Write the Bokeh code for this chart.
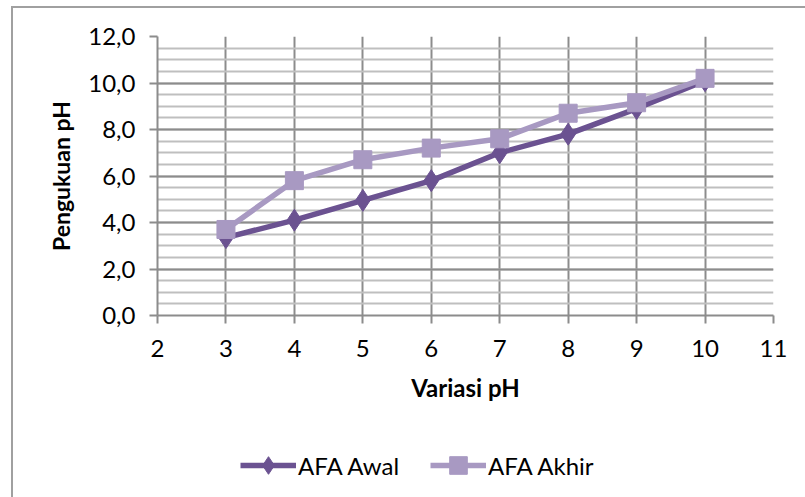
from bokeh.plotting import figure
from bokeh.layouts import column
from bokeh.models import Range1d, FixedTicker, Legend, LegendItem
from bokeh.embed import file_html
from bokeh.resources import INLINE

# ---- data ----
variasi_ph = [3, 4, 5, 6, 7, 8, 9, 10]
afa_awal = [3.35, 4.1, 4.95, 5.8, 7.0, 7.8, 8.9, 10.1]
afa_akhir = [3.7, 5.8, 6.7, 7.2, 7.6, 8.7, 9.15, 10.2]
x_ticks = [2, 3, 4, 5, 6, 7, 8, 9, 10, 11]
y_ticks = [0, 2, 4, 6, 8, 10, 12]
y_tick_labels = ["0,0", "2,0", "4,0", "6,0", "8,0", "10,0", "12,0"]
y_minor_ticks = [i * 0.5 for i in range(25)]
series_names = ["AFA Awal", "AFA Akhir"]

FONT = "Lato"
DARK = "#6b5291"
LIGHT = "#a899c2"
GRID = "#8c8c8c"

# main chart (canvas starts at page (13, 8) because of the chart-area border)
p = figure(width=792, height=429, output_backend="svg", toolbar_location=None,
           x_range=Range1d(2, 11), y_range=Range1d(0, 12),
           min_border_left=144, min_border_right=32, min_border_top=28, min_border_bottom=122)
p.outline_line_color = None
p.background_fill_color = "white"
p.border_fill_color = "white"

p.xaxis.ticker = FixedTicker(ticks=x_ticks)
p.yaxis.ticker = FixedTicker(ticks=y_ticks, minor_ticks=y_minor_ticks)
p.yaxis.major_label_overrides = {t: l for t, l in zip(y_ticks, y_tick_labels)}
for ax in (p.xaxis[0], p.yaxis[0]):
    ax.axis_line_color = GRID
    ax.axis_line_width = 2
    ax.major_tick_line_color = GRID
    ax.major_tick_line_width = 2
    ax.major_tick_in = 0
    ax.major_tick_out = 8
    ax.minor_tick_in = 0
    ax.minor_tick_out = 0
    ax.major_label_text_font = FONT
    ax.major_label_text_font_size = "24px"
    ax.major_label_text_color = "black"
    ax.axis_label_text_font = FONT
    ax.axis_label_text_font_size = "24px"
    ax.axis_label_text_font_style = "bold"
    ax.axis_label_text_color = "black"
p.yaxis.axis_label_text_font_size = "23px"
p.xaxis.axis_label = "Variasi pH"
p.yaxis.axis_label = "Pengukuan pH"
p.xaxis.major_label_standoff = 16
p.yaxis.major_label_standoff = 14
p.xaxis.axis_label_standoff = 13
p.yaxis.axis_label_standoff = 10

p.xgrid.grid_line_color = GRID
p.xgrid.grid_line_width = 2
p.ygrid.grid_line_color = GRID
p.ygrid.grid_line_width = 2
p.ygrid.minor_grid_line_color = "#bfbfbf"
p.ygrid.minor_grid_line_width = 2

p.line(variasi_ph, afa_awal, line_color=DARK, line_width=5.5)
p.scatter(variasi_ph, afa_awal, marker="diamond", size=22, fill_color=DARK, line_color=DARK)
p.line(variasi_ph, afa_akhir, line_color=LIGHT, line_width=5.5)
p.scatter(variasi_ph, afa_akhir, marker="square", size=18, fill_color=LIGHT, line_color=LIGHT)

# legend strip (its renderers use the same data but lie outside this strip's ranges)
q = figure(width=792, height=60, output_backend="svg", toolbar_location=None,
           x_range=Range1d(20, 21), y_range=Range1d(20, 21),
           min_border_left=0, min_border_right=0, min_border_top=0, min_border_bottom=0)
q.axis.visible = False
q.grid.visible = False
q.outline_line_color = None
q.border_fill_color = "white"
q.background_fill_color = "white"
ql1 = q.line(variasi_ph, afa_awal, line_color=DARK, line_width=5.5)
qs1 = q.scatter(variasi_ph, afa_awal, marker="diamond", size=20, fill_color=DARK, line_color=DARK)
ql2 = q.line(variasi_ph, afa_akhir, line_color=LIGHT, line_width=5.5)
qs2 = q.scatter(variasi_ph, afa_akhir, marker="square", size=18, fill_color=LIGHT, line_color=LIGHT)
legend = Legend(items=[LegendItem(label=series_names[0], renderers=[ql1, qs1]),
                       LegendItem(label=series_names[1], renderers=[ql2, qs2])],
                orientation="horizontal", location=(83, 10),
                glyph_width=56, glyph_height=44, label_standoff=2, spacing=31,
                padding=0, margin=0, border_line_color=None, background_fill_alpha=0,
                label_text_font=FONT, label_text_font_size="24px", label_text_color="black")
q.add_layout(legend, "center")

layout = column(p, q, spacing=0)
layout.styles = {"margin-left": "11px", "margin-top": "6px",
                 "border-left": "2px solid #a0a0a0", "border-top": "2px solid #a0a0a0"}

open("out.html", "w").write(file_html(layout, INLINE))
